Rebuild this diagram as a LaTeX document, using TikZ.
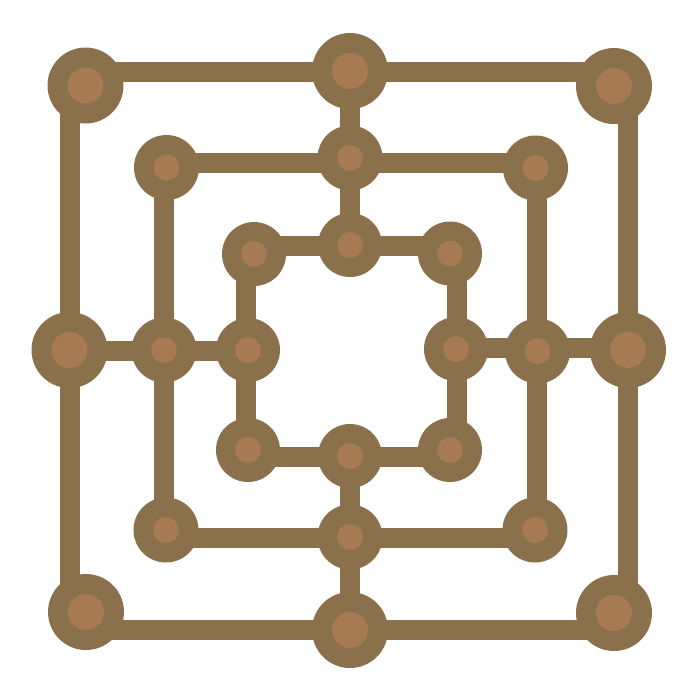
\documentclass[tikz,border=0pt]{standalone}
\definecolor{BoardRing}{HTML}{8B704C}
\definecolor{BoardCore}{HTML}{A67A52}

\begin{document}
\begin{tikzpicture}[
      x=0.1mm, y=-0.1mm,
      spot/.style={circle, fill=BoardRing, inner sep=0pt,
                   path picture={\fill[BoardCore] (path picture bounding box.center) circle (#1);}},
      bigspot/.style={spot=1.8mm, minimum size=7.6mm},
      midspot/.style={spot=1.3mm, minimum size=6.5mm},
      smallspot/.style={spot=1.3mm, minimum size=6.4mm},
      rail/.style={draw=BoardRing, line width=2mm, line join=miter}
  ]
      \fill[white] (0,0) rectangle (700,700);
      \useasboundingbox (0,0) rectangle (700,700);

      % Rail corners
      \coordinate (o1) at (70,72);    \coordinate (o2) at (628,72);
      \coordinate (o3) at (628,629.5);\coordinate (o4) at (70,629.5);
      \coordinate (m1) at (164,163);  \coordinate (m2) at (537.5,163);
      \coordinate (m3) at (537.5,537.5); \coordinate (m4) at (164,537.5);
      \coordinate (i1) at (246,245.5); \coordinate (i2) at (457,245.5);
      \coordinate (i3) at (457,457);  \coordinate (i4) at (246,457);

      % Cross rail ends
      \coordinate (ct) at (350,72);   \coordinate (cti) at (350,245.5);
      \coordinate (cb) at (350,629.5);\coordinate (cbi) at (350,457);
      \coordinate (cl) at (70,350.5); \coordinate (cli) at (246,350.5);
      \coordinate (cr) at (628,348);  \coordinate (cri) at (457,348);

      % Squares and crossings
      \draw[rail] (o1) -- (o2) -- (o3) -- (o4) -- cycle;
      \draw[rail] (m1) -- (m2) -- (m3) -- (m4) -- cycle;
      \draw[rail] (i1) -- (i2) -- (i3) -- (i4) -- cycle;
      \draw[rail] (ct) -- (cti);
      \draw[rail] (cb) -- (cbi);
      \draw[rail] (cl) -- (cli);
      \draw[rail] (cr) -- (cri);

      % Outer square points
      \node[bigspot] (otl) at (85.5,85.5) {};
      \node[bigspot] (otm) at (350,71) {};
      \node[bigspot] (otr) at (614,86) {};
      \node[bigspot] (oml) at (69.5,350) {};
      \node[bigspot] (omr) at (628,350) {};
      \node[bigspot] (obl) at (86,612) {};
      \node[bigspot] (obm) at (350,630) {};
      \node[bigspot] (obr) at (614,613) {};

      % Middle square points
      \node[midspot] (mtl) at (166.5,167.5) {};
      \node[midspot] (mtm) at (350,158) {};
      \node[midspot] (mtr) at (535.5,168) {};
      \node[midspot] (mml) at (164,350) {};
      \node[midspot] (mmr) at (537.5,351) {};
      \node[midspot] (mbl) at (166,530) {};
      \node[midspot] (mbm) at (350,537) {};
      \node[midspot] (mbr) at (535,530) {};

      % Inner square points
      \node[smallspot] (itl) at (254,254) {};
      \node[smallspot] (itm) at (350,245) {};
      \node[smallspot] (itr) at (450,253.5) {};
      \node[smallspot] (iml) at (248,350) {};
      \node[smallspot] (imr) at (456,349) {};
      \node[smallspot] (ibl) at (248,450) {};
      \node[smallspot] (ibm) at (350,456) {};
      \node[smallspot] (ibr) at (450,450) {};
  \end{tikzpicture}
\end{document}
